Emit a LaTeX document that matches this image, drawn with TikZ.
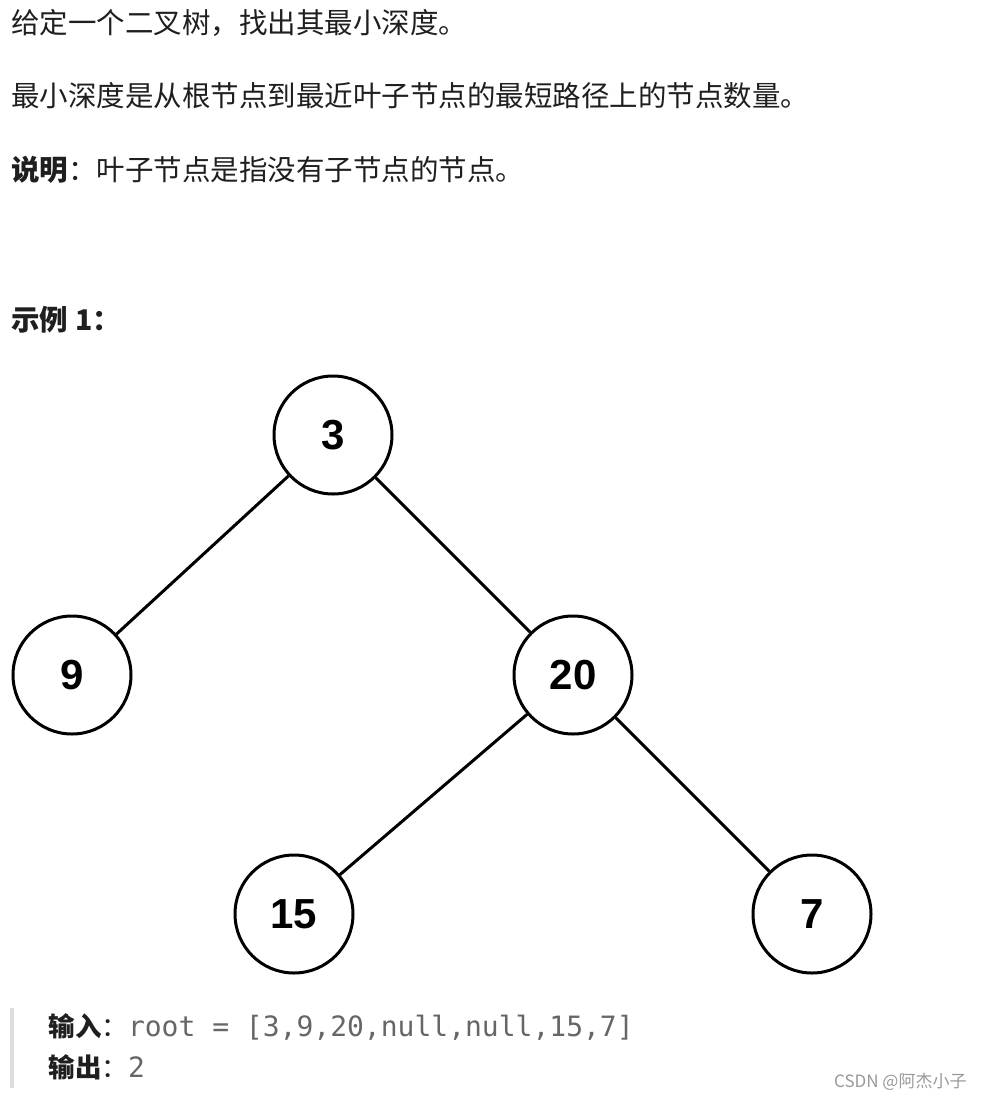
\documentclass[tikz,border=0pt]{standalone}
\usepackage{fontspec}
\newfontfamily\cjk{Noto Sans CJK SC}
\newfontfamily\numfont{Liberation Sans}
\newfontfamily\codefont{DejaVu Sans Mono}
\definecolor{textblack}{HTML}{1F1F1F}
\definecolor{codegray}{HTML}{666666}
\definecolor{quotebar}{HTML}{DDDDDD}
\definecolor{markgray}{HTML}{999999}

\begin{document}
\begin{tikzpicture}[x=1pt, y=-1pt, line width=3pt]
			\tikzstyle{vertex} = [circle, minimum size=118pt, inner sep=0pt, draw=black, fill=white, font=\numfont\bfseries\fontsize{42}{42}\selectfont]
			\tikzstyle{para}   = [anchor=west, inner sep=0pt, text=textblack, font=\cjk\fontsize{28.5}{28.5}\selectfont]
			\tikzstyle{code}   = [anchor=west, inner sep=0pt, text=textblack, font=\cjk\fontsize{26.5}{26.5}\selectfont]

			\useasboundingbox (0,0) rectangle (984,1100);

			% problem text
			\node[para] (line1) at (10, 23) {给定一个二叉树，找出其最小深度。};
			\node[para] (line2) at (10, 96) {最小深度是从根节点到最近叶子节点的最短路径上的节点数量。};
			\node[para] (line3) at (10, 170) {{\bfseries 说明}：叶子节点是指没有子节点的节点。};
			\node[para] (ex1) at (10, 320) {\bfseries 示例 1：};

			% the tree
			\foreach \name/\x/\y in {3/333/435, 9/72/675, 20/573/675, 15/294/914, 7/812/914}
				\node[vertex] (n\name) at (\x, \y) {\name};

			\foreach \from/\to in {n3/n9, n3/n20, n20/n15, n20/n7}
				\path[-] (\to) edge (\from);

			% example block
			\fill[quotebar] (10,1008) rectangle (14,1088);
			\node[code] (input) at (47, 1027) {{\bfseries 输入}：{\codefont\fontsize{28}{28}\selectfont\color{codegray} root = [3,9,20,null,null,15,7]}};
			\node[code] (output) at (47, 1067) {{\bfseries 输出}：{\codefont\fontsize{28}{28}\selectfont\color{codegray}2}};
			\node[anchor=east, inner sep=0pt, text=markgray, font=\cjk\fontsize{17}{17}\selectfont] (mark) at (968, 1082) {CSDN @阿杰小子};

		\end{tikzpicture}
\end{document}
